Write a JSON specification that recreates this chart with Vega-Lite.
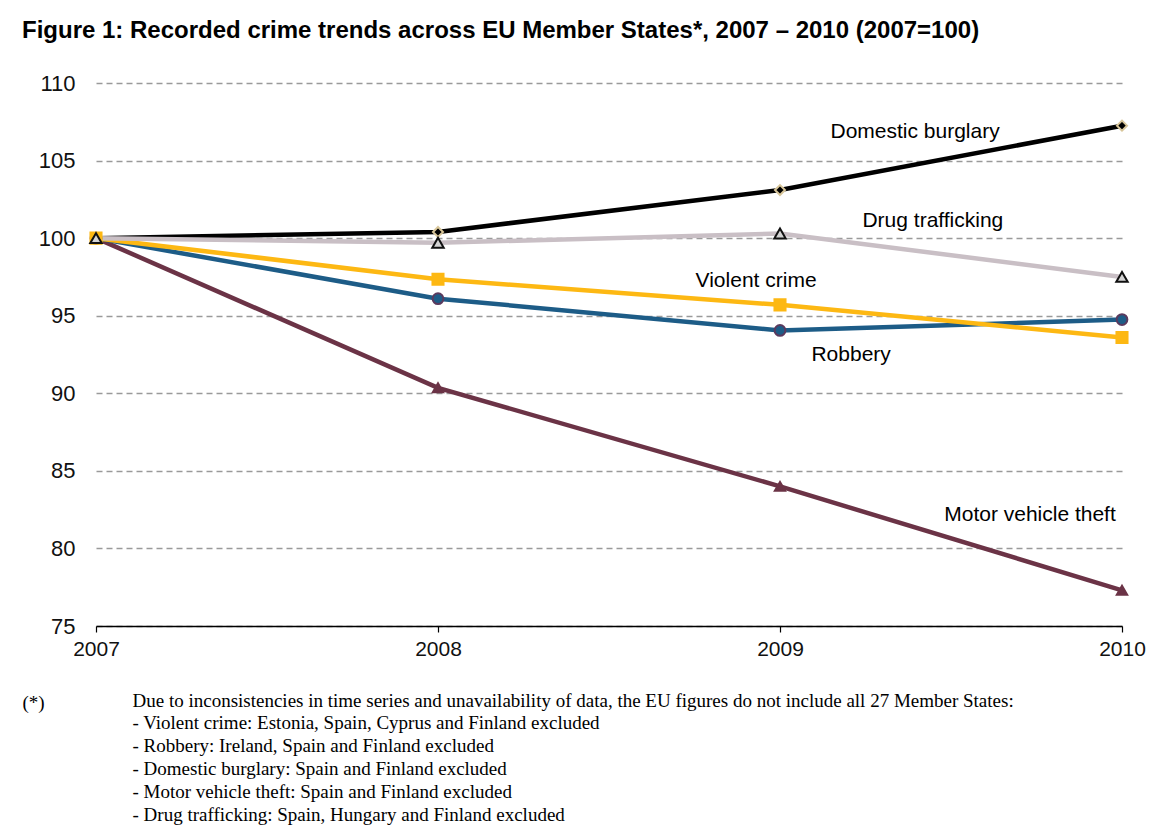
{
  "$schema": "https://vega.github.io/schema/vega-lite/v6.json",
  "autosize": "none",
  "width": 1026,
  "height": 543,
  "padding": {"left": 96, "top": 83, "right": 31, "bottom": 204},
  "background": "white",
  "title": {
    "text": "Figure 1: Recorded crime trends across EU Member States*, 2007 – 2010 (2007=100)",
    "anchor": "start",
    "frame": "group",
    "dx": -74,
    "offset": 10,
    "font": "Liberation Sans",
    "fontSize": 24,
    "fontWeight": "bold",
    "color": "#000000",
    "baseline": "alphabetic"
  },
  "config": {
    "view": {"stroke": null},
    "axis": {"labelFont": "Liberation Sans", "titleFont": "Liberation Serif"}
  },
  "data": {
    "values": [
      {"series": "Domestic burglary", "year": 2007, "value": 100},
      {"series": "Domestic burglary", "year": 2008, "value": 100.4},
      {"series": "Domestic burglary", "year": 2009, "value": 103.1},
      {"series": "Domestic burglary", "year": 2010, "value": 107.25},
      {"series": "Motor vehicle theft", "year": 2007, "value": 100},
      {"series": "Motor vehicle theft", "year": 2008, "value": 90.35},
      {"series": "Motor vehicle theft", "year": 2009, "value": 84.0},
      {"series": "Motor vehicle theft", "year": 2010, "value": 77.3},
      {"series": "Robbery", "year": 2007, "value": 100},
      {"series": "Robbery", "year": 2008, "value": 96.1},
      {"series": "Robbery", "year": 2009, "value": 94.05},
      {"series": "Robbery", "year": 2010, "value": 94.75},
      {"series": "Violent crime", "year": 2007, "value": 100},
      {"series": "Violent crime", "year": 2008, "value": 97.35},
      {"series": "Violent crime", "year": 2009, "value": 95.7},
      {"series": "Violent crime", "year": 2010, "value": 93.6},
      {"series": "Drug trafficking", "year": 2007, "value": 100},
      {"series": "Drug trafficking", "year": 2008, "value": 99.7},
      {"series": "Drug trafficking", "year": 2009, "value": 100.3},
      {"series": "Drug trafficking", "year": 2010, "value": 97.5}
    ]
  },
  "encoding": {
    "x": {
      "field": "year",
      "type": "quantitative",
      "scale": {"domain": [2007, 2010], "nice": false, "zero": false},
      "axis": {
        "values": [2007, 2008, 2009, 2010],
        "format": "d",
        "grid": false,
        "domainColor": "#000000",
        "domainWidth": 1.5,
        "tickColor": "#000000",
        "tickSize": 6,
        "tickWidth": 1.2,
        "labelFontSize": 21,
        "labelColor": "#111111",
        "labelPadding": 6,
        "labelFlush": false,
        "title": [
          "Due to inconsistencies in time series and unavailability of data, the EU figures do not include all 27 Member States:",
          "- Violent crime: Estonia, Spain, Cyprus and Finland excluded",
          "- Robbery: Ireland, Spain and Finland excluded",
          "- Domestic burglary: Spain and Finland excluded",
          "- Motor vehicle theft: Spain and Finland excluded",
          "- Drug trafficking: Spain, Hungary and Finland excluded"
        ],
        "titleX": 36,
        "titleY": 65,
        "titleAlign": "left",
        "titleAnchor": null,
        "titleBaseline": "top",
        "titleFont": "Liberation Serif",
        "titleFontSize": 19,
        "titleFontWeight": "normal",
        "titleColor": "#000000",
        "titleLineHeight": 22.8
      }
    },
    "y": {
      "field": "value",
      "type": "quantitative",
      "scale": {"domain": [75, 110], "nice": false, "zero": false},
      "axis": {
        "values": [75, 80, 85, 90, 95, 100, 105, 110],
        "domain": false,
        "ticks": false,
        "grid": true,
        "gridColor": "#9a9a9a",
        "gridDash": [6, 4],
        "gridWidth": 1.3,
        "labelFontSize": 22,
        "labelColor": "#111111",
        "labelPadding": 21,
        "title": "(*)",
        "titleAngle": 0,
        "titleX": -74,
        "titleY": 610,
        "titleAlign": "left",
        "titleBaseline": "top",
        "titleFont": "Liberation Serif",
        "titleFontSize": 19,
        "titleFontWeight": "normal",
        "titleColor": "#000000"
      }
    }
  },
  "layer": [
    {
      "mark": {"type": "line", "strokeWidth": 4.5},
      "encoding": {
        "color": {
          "field": "series",
          "type": "nominal",
          "legend": null,
          "scale": {
            "domain": ["Domestic burglary", "Motor vehicle theft", "Robbery", "Violent crime", "Drug trafficking"],
            "range": ["#000000", "#6b3346", "#1d5c87", "#fdb813", "#c9bfc5"]
          }
        }
      }
    },
    {
      "mark": {"type": "point", "filled": true, "opacity": 1, "strokeWidth": 2},
      "encoding": {
        "shape": {
          "field": "series",
          "type": "nominal",
          "legend": null,
          "scale": {
            "domain": ["Domestic burglary", "Motor vehicle theft", "Robbery", "Violent crime", "Drug trafficking"],
            "range": ["diamond", "triangle-up", "circle", "square", "triangle-up"]
          }
        },
        "fill": {
          "field": "series",
          "type": "nominal",
          "legend": null,
          "scale": {
            "domain": ["Domestic burglary", "Motor vehicle theft", "Robbery", "Violent crime", "Drug trafficking"],
            "range": ["#000000", "#6b3346", "#1d5c87", "#fdb813", "#d4d4d4"]
          }
        },
        "stroke": {
          "field": "series",
          "type": "nominal",
          "legend": null,
          "scale": {
            "domain": ["Domestic burglary", "Motor vehicle theft", "Robbery", "Violent crime", "Drug trafficking"],
            "range": ["#d8c69a", "#6b3346", "#5a3a5e", "#fdb813", "#111111"]
          }
        },
        "size": {
          "field": "series",
          "type": "nominal",
          "legend": null,
          "scale": {
            "domain": ["Domestic burglary", "Motor vehicle theft", "Robbery", "Violent crime", "Drug trafficking"],
            "range": [100, 130, 170, 170, 110]
          }
        }
      }
    },
    {
      "transform": [{"filter": "datum.series == 'Domestic burglary' && datum.year == 2010"}],
      "mark": {"type": "text", "font": "Liberation Sans", "fontSize": 21, "color": "#000000", "align": "center", "baseline": "middle"},
      "encoding": {"x": {"datum": 2009.395}, "y": {"datum": 106.84}, "text": {"value": "Domestic burglary"}}
    },
    {
      "transform": [{"filter": "datum.series == 'Drug trafficking' && datum.year == 2010"}],
      "mark": {"type": "text", "font": "Liberation Sans", "fontSize": 21, "color": "#000000", "align": "center", "baseline": "middle"},
      "encoding": {"x": {"datum": 2009.447}, "y": {"datum": 101.1}, "text": {"value": "Drug trafficking"}}
    },
    {
      "transform": [{"filter": "datum.series == 'Violent crime' && datum.year == 2010"}],
      "mark": {"type": "text", "font": "Liberation Sans", "fontSize": 21, "color": "#000000", "align": "center", "baseline": "middle"},
      "encoding": {"x": {"datum": 2008.93}, "y": {"datum": 97.24}, "text": {"value": "Violent crime"}}
    },
    {
      "transform": [{"filter": "datum.series == 'Robbery' && datum.year == 2010"}],
      "mark": {"type": "text", "font": "Liberation Sans", "fontSize": 21, "color": "#000000", "align": "center", "baseline": "middle"},
      "encoding": {"x": {"datum": 2009.208}, "y": {"datum": 92.46}, "text": {"value": "Robbery"}}
    },
    {
      "transform": [{"filter": "datum.series == 'Motor vehicle theft' && datum.year == 2010"}],
      "mark": {"type": "text", "font": "Liberation Sans", "fontSize": 21, "color": "#000000", "align": "center", "baseline": "middle"},
      "encoding": {"x": {"datum": 2009.731}, "y": {"datum": 82.15}, "text": {"value": "Motor vehicle theft"}}
    }
  ]
}
